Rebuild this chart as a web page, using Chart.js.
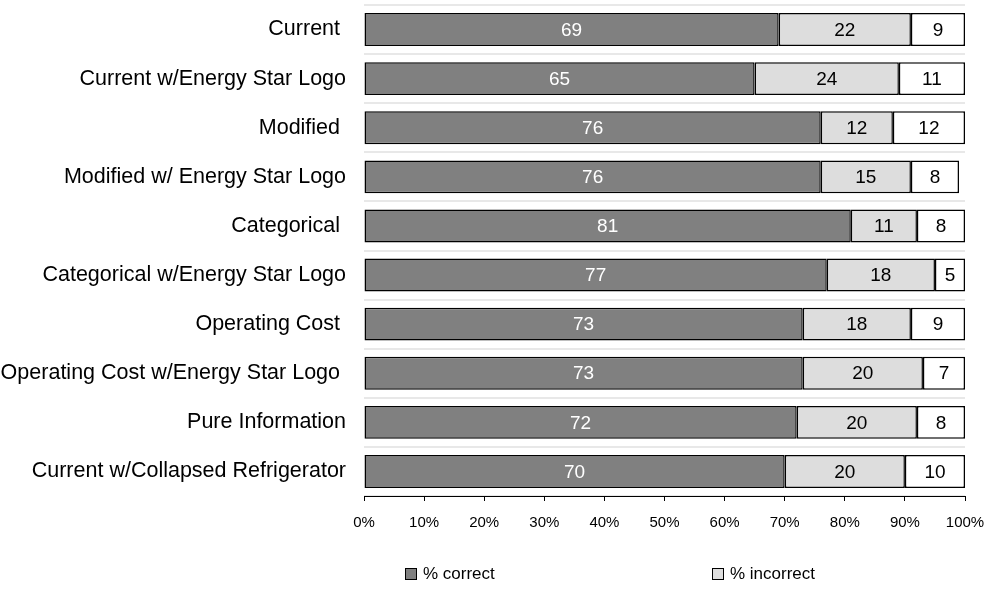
<!DOCTYPE html>
<html>
<head>
<meta charset="utf-8">
<script src="https://cdn.jsdelivr.net/npm/chart.js@4.4.0/dist/chart.umd.min.js"></script>
<style>
  html, body { margin: 0; padding: 0; background: #fff; }
  #wrap { position: relative; width: 986px; height: 590px; }
  #legend { position: absolute; top: 563px; left: 0; width: 986px; height: 24px;
            font: 17px "Liberation Sans", Arial, sans-serif; color: #000; }
  .item { position: absolute; top: 0; display: flex; align-items: center; height: 22px; white-space: nowrap; }
  .box { width: 10px; height: 10px; border: 1px solid #000; margin-right: 6px; }
</style>
</head>
<body>
<div id="wrap">
  <canvas id="chart" width="986" height="590"></canvas>
  <div id="legend"></div>
</div>
<script>
const categories = [
  'Current ',
  'Current w/Energy Star Logo',
  'Modified ',
  'Modified w/ Energy Star Logo',
  'Categorical ',
  'Categorical w/Energy Star Logo',
  'Operating Cost ',
  'Operating Cost w/Energy Star Logo ',
  'Pure Information',
  'Current w/Collapsed Refrigerator'
];
const correct   = [69, 65, 76, 76, 81, 77, 73, 73, 72, 70];
const incorrect = [22, 24, 12, 15, 11, 18, 18, 20, 20, 20];
const other     = [9, 11, 12, 8, 8, 5, 9, 7, 8, 10];
const seriesNames = ['% correct', '% incorrect', ''];
const legendLeft = [405, 712];

const font = '"Liberation Sans", Arial, sans-serif';

// value labels in the middle of each segment
const barLabels = {
  id: 'barLabels',
  afterDatasetsDraw(chart) {
    const ctx = chart.ctx;
    ctx.save();
    ctx.font = '19px ' + font;
    ctx.textAlign = 'center';
    ctx.textBaseline = 'middle';
    chart.data.datasets.forEach((ds, i) => {
      const meta = chart.getDatasetMeta(i);
      meta.data.forEach((bar, j) => {
        ctx.fillStyle = ds.labelColor;
        ctx.fillText(ds.data[j], (bar.x + bar.base) / 2, bar.y + 1);
      });
    });
    ctx.restore();
  }
};

const chart = new Chart(document.getElementById('chart'), {
  type: 'bar',
  data: {
    labels: categories,
    datasets: [
      { label: seriesNames[0], data: correct,   backgroundColor: '#808080', labelColor: '#fff' },
      { label: seriesNames[1], data: incorrect, backgroundColor: '#dddddd', labelColor: '#000' },
      { label: seriesNames[2], data: other,     backgroundColor: '#ffffff', labelColor: '#000' }
    ].map(d => Object.assign(d, {
      borderColor: '#000',
      borderWidth: 1.5,
      borderSkipped: false,
      categoryPercentage: 1,
      barPercentage: 0.67
    }))
  },
  options: {
    indexAxis: 'y',
    responsive: false,
    animation: false,
    devicePixelRatio: 1,
    layout: { padding: { top: 5, right: 21, bottom: 45, left: 0 } },
    plugins: { legend: { display: false }, tooltip: { enabled: false } },
    scales: {
      x: {
        stacked: true,
        min: 0, max: 100,
        afterFit: s => { s.paddingLeft = 0; s.paddingRight = 0; },
        ticks: {
          stepSize: 10,
          color: '#000',
          padding: 13,
          font: { family: font, size: 15 },
          callback: v => v + '%'
        },
        grid: { drawOnChartArea: false, drawTicks: true, tickLength: 5, color: '#000', lineWidth: 1 },
        border: { display: true, color: '#000', width: 1 }
      },
      y: {
        stacked: true,
        afterFit: s => { s.width = 364; s.paddingTop = 0; s.paddingBottom = 0; },
        ticks: { color: '#000', padding: 18, font: { family: font, size: 21.5 } },
        grid: { color: '#e8e8e8', lineWidth: 2, drawTicks: false },
        border: { display: false }
      }
    }
  },
  plugins: [barLabels]
});

// legend for the first two series
const legend = document.getElementById('legend');
chart.data.datasets.slice(0, 2).forEach((ds, i) => {
  const item = document.createElement('div');
  item.className = 'item';
  item.style.left = legendLeft[i] + 'px';
  const box = document.createElement('span');
  box.className = 'box';
  box.style.background = ds.backgroundColor;
  item.appendChild(box);
  item.appendChild(document.createTextNode(ds.label));
  legend.appendChild(item);
});
</script>
</body>
</html>
